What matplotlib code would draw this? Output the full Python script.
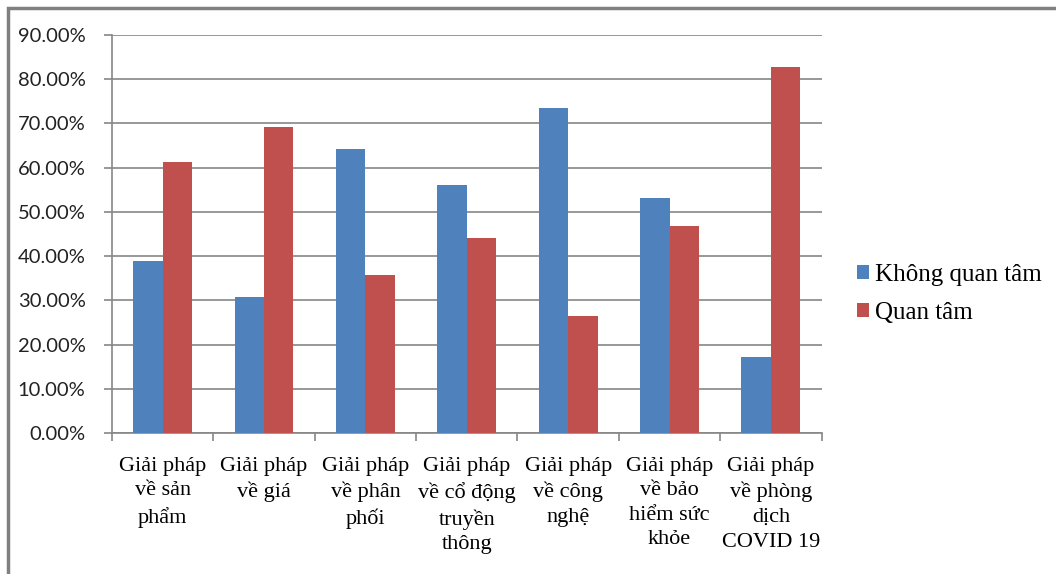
import matplotlib.pyplot as plt
import numpy as np
from matplotlib.patches import Rectangle

categories = ['Giải pháp\nvề sản\nphẩm', 'Giải pháp\nvề giá', 'Giải pháp\nvề phân\nphối',
              'Giải pháp\nvề cổ động\ntruyền\nthông', 'Giải pháp\nvề công\nnghệ',
              'Giải pháp\nvề bảo\nhiểm sức\nkhỏe', 'Giải pháp\nvề phòng\ndịch\nCOVID 19']
khong_quan_tam = [38.8, 30.7, 64.3, 56.0, 73.5, 53.1, 17.3]
quan_tam = [61.2, 69.3, 35.7, 44.0, 26.5, 46.9, 82.7]
series_names = ['Không quan tâm', 'Quan tâm']
yticks = [0, 10, 20, 30, 40, 50, 60, 70, 80, 90]

blue = '#4F81BD'
red = '#C0504D'
grid = '#868686'

fig = plt.figure(figsize=(10.56, 5.74), dpi=100)
ax = fig.add_axes([0.106, 0.2456, 0.672, 0.6934])

x = np.arange(len(categories))
w = 0.29
ax.bar(x - w / 2, khong_quan_tam, w, color=blue, label=series_names[0], zorder=3)
ax.bar(x + w / 2, quan_tam, w, color=red, label=series_names[1], zorder=3)

ax.set_xlim(-0.5, len(categories) - 0.5)
ax.set_ylim(0, 90)
ax.set_yticks(yticks)
ax.set_yticklabels(['%.2f%%' % v for v in yticks], fontfamily='Lato', fontsize=14.5, color='#222222')
ax.yaxis.grid(True, color=grid, linewidth=1.2, zorder=0)
ax.tick_params(axis='y', length=6, width=1.2, color=grid, pad=13)

ax.set_xticks(x)
ax.set_xticklabels(categories, fontfamily='Liberation Serif', fontsize=16, linespacing=1.4)
ax.set_xticks(np.arange(len(categories) + 1) - 0.5, minor=True)
ax.tick_params(axis='x', which='major', length=0, pad=17)
ax.tick_params(axis='x', which='minor', length=6, width=1.2, color=grid)

for s in ['top', 'right']:
    ax.spines[s].set_visible(False)
for s in ['left', 'bottom']:
    ax.spines[s].set_color(grid)
    ax.spines[s].set_linewidth(1.2)

fig.legend(loc='upper left', bbox_to_anchor=(0.79, 0.58), frameon=False,
           prop={'family': 'Liberation Serif', 'size': 18},
           handlelength=0.5, handleheight=0.5, handletextpad=0.25, labelspacing=0.65)

fig.patches.append(Rectangle((8 / 1056, -0.1), 1.2, 1.1 - 8 / 574, transform=fig.transFigure,
                             fill=False, edgecolor='#808080', linewidth=2.5))

fig.savefig('out.png', dpi=100)
